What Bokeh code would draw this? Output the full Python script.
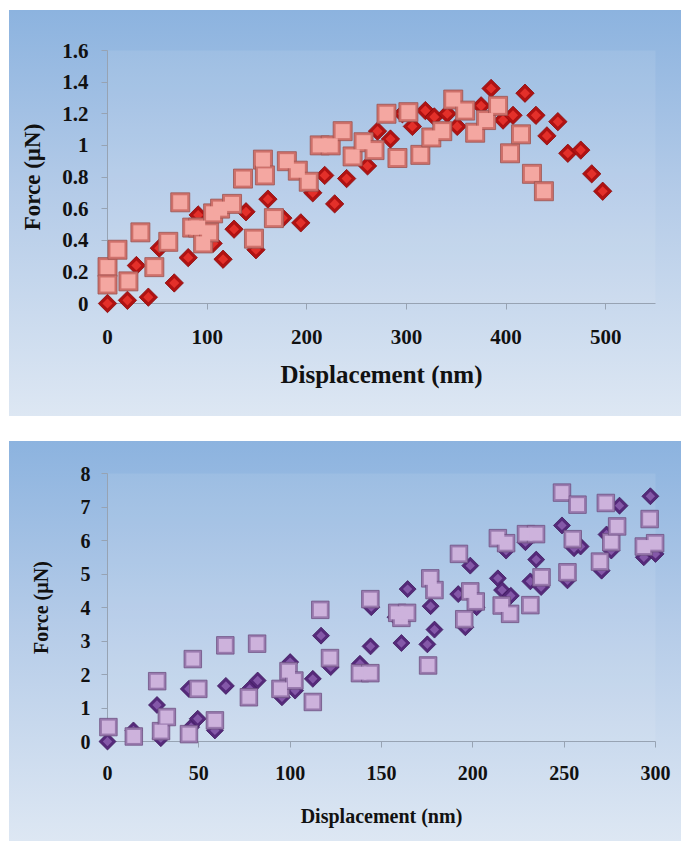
import numpy as np
from bokeh.plotting import figure
from bokeh.layouts import column
from bokeh.models import FixedTicker
from bokeh.embed import file_html
from bokeh.resources import INLINE

# ---------------- data: top chart ----------------
top_sq_x = [0, 0, 10, 21, 33, 47, 61, 73, 85, 91, 96, 102, 106, 113, 125, 136, 147, 156, 158, 167,
            180, 191, 202, 213, 224, 236, 246, 257, 268, 280, 291, 302, 314, 325, 336, 347, 359, 369,
            380, 392, 404, 415, 426, 438]
top_sq_y = [0.23, 0.12, 0.34, 0.14, 0.45, 0.23, 0.39, 0.64, 0.48, 0.48, 0.38, 0.45, 0.57, 0.60, 0.63,
            0.79, 0.41, 0.91, 0.81, 0.54, 0.90, 0.84, 0.77, 1.00, 1.00, 1.09, 0.93, 1.02, 0.97, 1.20,
            0.92, 1.21, 0.94, 1.05, 1.09, 1.29, 1.22, 1.08, 1.16, 1.25, 0.95, 1.07, 0.82, 0.71]
top_di_x = [0, 20, 29, 41, 52, 67, 81, 91, 106, 116, 127, 139, 149, 161, 176, 194, 206, 218, 228, 240,
            261, 271, 284, 296, 306, 319, 328, 341, 351, 375, 385, 397, 407, 419, 430, 441, 452, 462,
            475, 486, 497]
top_di_y = [0.00, 0.02, 0.24, 0.04, 0.35, 0.13, 0.29, 0.56, 0.38, 0.28, 0.47, 0.58, 0.34, 0.66, 0.54,
            0.51, 0.70, 0.81, 0.63, 0.79, 0.87, 1.09, 1.04, 1.20, 1.12, 1.22, 1.18, 1.20, 1.12, 1.25,
            1.36, 1.16, 1.19, 1.33, 1.19, 1.06, 1.15, 0.95, 0.97, 0.82, 0.71]
top_x_ticks = [0, 100, 200, 300, 400, 500]
top_y_ticks = [0, 0.2, 0.4, 0.6, 0.8, 1, 1.2, 1.4, 1.6]
top_y_labels = ["0", "0.2", "0.4", "0.6", "0.8", "1", "1.2", "1.4", "1.6"]

# ---------------- data: bottom chart ----------------
bot_sq_x = [0.5, 14.4, 27.2, 29.3, 32.5, 44.6, 46.7, 49.7, 58.8, 64.5, 77.4, 81.9, 94.7, 99.1, 102.3,
            112.4, 116.5, 121.8, 138.2, 143.9, 143.9, 158.6, 160.9, 164, 175.5, 176.7, 179, 192.4,
            195.3, 198.6, 201.6, 213.7, 215.8, 218.2, 220.4, 229.1, 231.5, 234.6, 237.6, 248.8,
            251.8, 254.7, 257.3, 269.6, 272.8, 275.8, 279, 293.6, 296.8, 299.8]
bot_sq_y = [0.43, 0.15, 1.80, 0.31, 0.73, 0.22, 2.46, 1.57, 0.63, 2.87, 1.32, 2.92, 1.57, 2.10, 1.82,
            1.18, 3.93, 2.49, 2.04, 2.04, 4.25, 3.84, 3.69, 3.84, 2.27, 4.87, 4.52, 5.60,
            3.65, 4.48, 4.18, 6.07, 4.06, 5.92, 3.81, 6.19, 4.07, 6.19, 4.90, 7.43,
            5.05, 6.04, 7.07, 5.37, 7.12, 5.95, 6.42, 5.82, 6.64, 5.92]
bot_di_x = [0, 14.2, 27.1, 29.2, 44.5, 45.8, 49.4, 58.8, 64.8, 77.8, 82.2, 95.5, 100, 102.7, 112.4,
            116.9, 122.2, 138.2, 144, 144.4, 157.7, 160.9, 164.3, 175.1, 176.9, 179, 192, 195.9,
            198.6, 202.1, 213.7, 216, 218.2, 220.8, 228.8, 231.5, 234.7, 237.4, 248.8, 251.8,
            255.4, 259, 270.5, 273.2, 275.8, 280.3, 293.6, 297.2, 300]
bot_di_y = [0.00, 0.33, 1.09, 0.10, 1.57, 0.43, 0.68, 0.33, 1.66, 1.57, 1.82, 1.32, 2.37, 1.52, 1.87,
            3.16, 2.22, 2.32, 2.84, 4.01, 3.71, 2.94, 4.55, 2.90, 4.04, 3.34, 4.40, 3.41,
            5.25, 4.01, 4.87, 4.52, 5.70, 4.35, 5.95, 4.78, 5.43, 4.61, 6.45, 4.81,
            5.77, 5.82, 5.10, 6.18, 5.70, 7.04, 5.50, 7.32, 5.60]
bot_x_ticks = [0, 50, 100, 150, 200, 250, 300]
bot_y_ticks = [0, 1, 2, 3, 4, 5, 6, 7, 8]
bot_y_labels = ["0", "1", "2", "3", "4", "5", "6", "7", "8"]

FONT = "Liberation Serif"
AXIS_COL = "#97a3b3"


def make_panel(height, xr, yr, borders, x_ticks, y_ticks, y_labels, tick_fs, xt_fs, yt_fs,
               x_std, y_std, x_lstd, y_lstd):
    p = figure(width=672, height=height, x_range=xr, y_range=yr,
               output_backend="svg", toolbar_location=None,
               min_border_left=borders[0], min_border_right=borders[1],
               min_border_top=borders[2], min_border_bottom=borders[3])
    p.styles = {"background": "linear-gradient(180deg, #8cb3df 0%, #b4cbe8 45%, #dde7f3 100%)"}
    p.border_fill_alpha = 0
    p.background_fill_color = "white"
    p.background_fill_alpha = 0.09
    p.outline_line_color = None
    p.xgrid.visible = False
    p.ygrid.visible = False
    for ax in (p.xaxis[0], p.yaxis[0]):
        ax.axis_line_color = AXIS_COL
        ax.major_tick_line_color = AXIS_COL
        ax.minor_tick_line_color = None
        ax.major_tick_in = 0
        ax.major_label_text_font = FONT
        ax.major_label_text_font_style = "bold"
        ax.major_label_text_font_size = f"{tick_fs}px"
        ax.major_label_text_color = "#111111"
        ax.axis_label_text_font = FONT
        ax.axis_label_text_font_style = "bold"
        ax.axis_label_text_color = "#111111"
    p.xaxis.ticker = FixedTicker(ticks=x_ticks)
    p.yaxis.ticker = FixedTicker(ticks=y_ticks)
    p.yaxis.major_label_overrides = {t: l for t, l in zip(y_ticks, y_labels)}
    p.xaxis.major_tick_out = 6
    p.yaxis.major_tick_out = 6
    p.xaxis.major_label_standoff = x_std
    p.yaxis.major_label_standoff = y_std
    p.xaxis.axis_label = "Displacement (nm)"
    p.yaxis.axis_label = "Force (µN)"
    p.xaxis.axis_label_text_font_size = f"{xt_fs}px"
    p.yaxis.axis_label_text_font_size = f"{yt_fs}px"
    p.xaxis.axis_label_standoff = x_lstd
    p.yaxis.axis_label_standoff = y_lstd
    return p


def bevel(p, x, y, size, edge, face, line, angle=0.0, inner=0.7):
    p.scatter(x, y, marker="square", size=size, angle=angle, fill_color=edge,
              line_color=line, line_width=0.8, level="overlay")
    p.scatter(x, y, marker="square", size=size * inner, angle=angle, fill_color=face,
              line_color=None, level="overlay")


# top chart (figure placed at page x=9, y=10)
p1 = make_panel(406, (0, 550), (0, 1.6), (98, 26, 40, 113), top_x_ticks, top_y_ticks, top_y_labels,
                21, 25, 23, 20, 13, 14, 14)
p1.xaxis.bounds = (0, 550)
bevel(p1, top_di_x, top_di_y, 13, "#b01212", "#e3302a", "#8a0a0a", angle=np.pi / 4, inner=0.55)
bevel(p1, top_sq_x, top_sq_y, 19, "#cf716b", "#f4a7a1", "#9c5450", inner=0.74)

# bottom chart (figure placed at page x=9, y=441)
p2 = make_panel(400, (0, 300), (0, 8), (95, 13, 32, 100), bot_x_ticks, bot_y_ticks, bot_y_labels,
                20, 20, 20, 18, 11, 22, 26)
bevel(p2, bot_di_x, bot_di_y, 12, "#55297a", "#8458a8", "#3f1a5e", angle=np.pi / 4, inner=0.55)
bevel(p2, bot_sq_x, bot_sq_y, 17.5, "#9a7aae", "#cdb2dc", "#6f5283", inner=0.74)

layout = column(p1, p2, spacing=25, margin=(10, 0, 0, 9))
open("out.html", "w").write(file_html(layout, INLINE))
